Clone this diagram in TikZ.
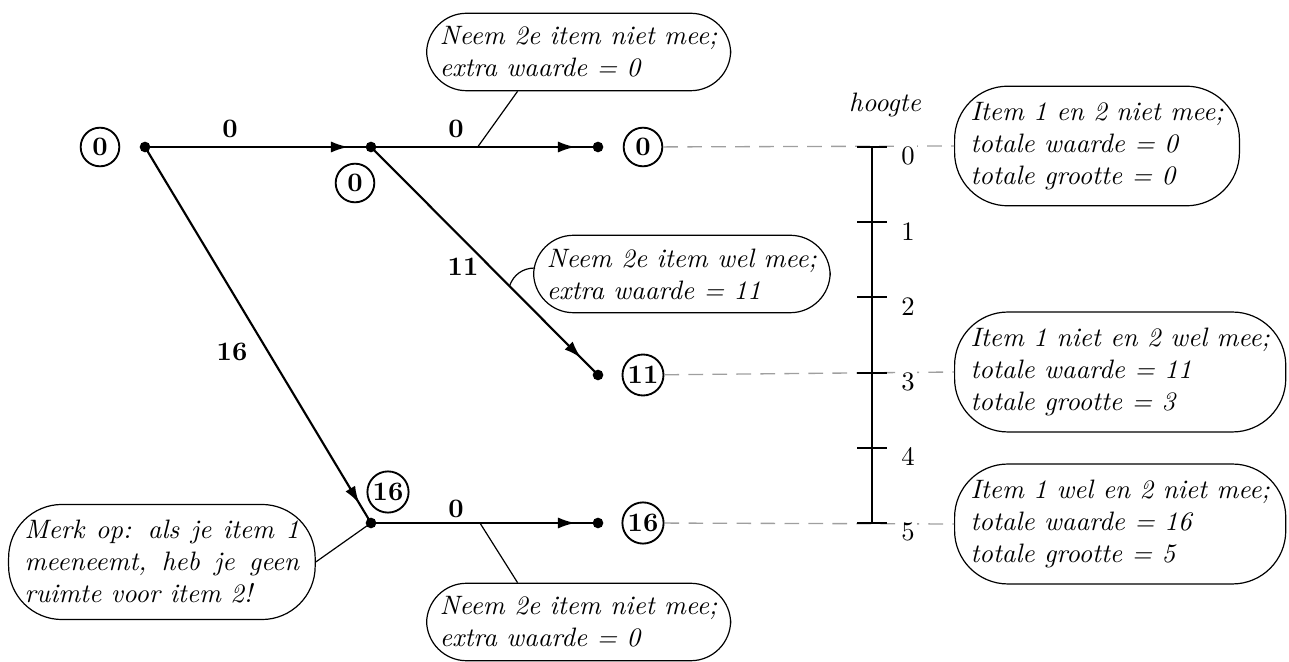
\documentclass[tikz,border=0pt]{standalone}
\usetikzlibrary{decorations.markings,calc,arrows.meta}
\begin{document}
\begin{tikzpicture}[x=0.013188cm,y=-0.013188cm,
  dot/.style={circle,fill,inner sep=0pt,minimum size=4pt},
  val/.style={circle,draw,line width=0.7pt,inner sep=0.8pt,minimum size=14.5pt,font=\bfseries},
  edgelab/.style={font=\bfseries},
  edgearrow/.style={line width=0.8pt,postaction={decorate},
    decoration={markings,mark=at position -0.3cm with {\arrow{Latex[length=6.5pt,width=4.2pt]}}}},
  callout/.style={draw,line width=0.45pt,align=left,font=\itshape,
    inner xsep=6pt,inner ysep=6pt,anchor=west,rounded corners=20pt},
  calloutsmall/.style={callout,inner xsep=5pt,inner ysep=5pt,rounded corners=15pt},
  pointer/.style={line width=0.45pt},
  guide/.style={gray!75,line width=0.5pt,dash pattern=on 5.5pt off 3.5pt},
  axis/.style={line width=0.8pt},
  ]
\useasboundingbox (0,0) rectangle (1289,662);

% dots
\node[dot] (r) at (145,147) {};
\node[dot] (b) at (371,147) {};
\node[dot] (c) at (598,147) {};
\node[dot] (d) at (598,375) {};
\node[dot] (e) at (371,523) {};
\node[dot] (f) at (598,523) {};

% value circles
\node[val] (vr) at (100,147) {0};
\node[val] (vb) at (355,183) {0};
\node[val] (vc) at (643,147) {0};
\node[val] (vd) at (643,375) {11};
\node[val] (ve) at (388,492) {16};
\node[val] (vf) at (643,523) {16};

% edges
\draw[edgearrow] (r.center) -- (b.center);
\draw[edgearrow] (b.center) -- (c.center);
\draw[edgearrow] (b.center) -- (d.center);
\draw[edgearrow] (r.center) -- (e.center);
\draw[edgearrow] (e.center) -- (f.center);

% edge labels
\node[edgelab] (l1) at (230,129) {0};
\node[edgelab] (l2) at (456,129) {0};
\node[edgelab] (l3) at (463,267) {11};
\node[edgelab] (l4) at (232,352) {16};
\node[edgelab] (l5) at (456,509) {0};

% callouts
\node[calloutsmall] (c1) at (426,52) {Neem 2e item niet mee;\\extra waarde = 0};
\node[calloutsmall] (c2) at (533,274) {Neem 2e item wel mee;\\extra waarde = 11};
\node[calloutsmall] (c3) at (426,622) {Neem 2e item niet mee;\\extra waarde = 0};
\node[callout] (c4) at (8,562) {\hbox to 103pt{Merk op: als je item 1}\\\hbox to 103pt{meeneemt, heb je geen}\\ruimte voor item 2!};

\node[callout] (s0) at (954,146) {Item 1 en 2 niet mee;\\totale waarde = 0\\totale grootte = 0};
\node[callout] (s3) at (954,372) {Item 1 niet en 2 wel mee;\\totale waarde = 11\\totale grootte = 3};
\node[callout] (s5) at (954,524) {Item 1 wel en 2 niet mee;\\totale waarde = 16\\totale grootte = 5};

% pointers
\coordinate (p1) at ($(b.center)!0.47!(c.center)$);
\draw[pointer] (p1) -- ($(c1.south west)!0.3!(c1.south east)$);
\coordinate (p2) at ($(b.center)!0.61!(d.center)$);
\draw[pointer] (p2) to[bend left=35] ($(c2.west)+(2,-6)$);
\coordinate (p3) at ($(e.center)!0.48!(f.center)$);
\draw[pointer] (p3) -- ($(c3.north west)!0.3!(c3.north east)$);
\draw[pointer] (c4.east) -- (e.center);

% dashed guides
\draw[guide] (vc) -- (s0.west);
\draw[guide] (vd) -- (s3.west);
\draw[guide] (vf) -- (s5.west);

% height axis
\node[font=\itshape] (h) at (885,105) {hoogte};
\coordinate (a0) at (872,147);
\coordinate (a5) at (872,523);
\draw[axis] (a0) -- (a5);
\foreach \i in {0,...,5}{
  \draw[axis] (857,147+\i*75.2) -- (887,147+\i*75.2);
  \node[fill=white,inner sep=1pt] (t\i) at (908,156+\i*75.2) {\i};
}
\end{tikzpicture}
\end{document}
